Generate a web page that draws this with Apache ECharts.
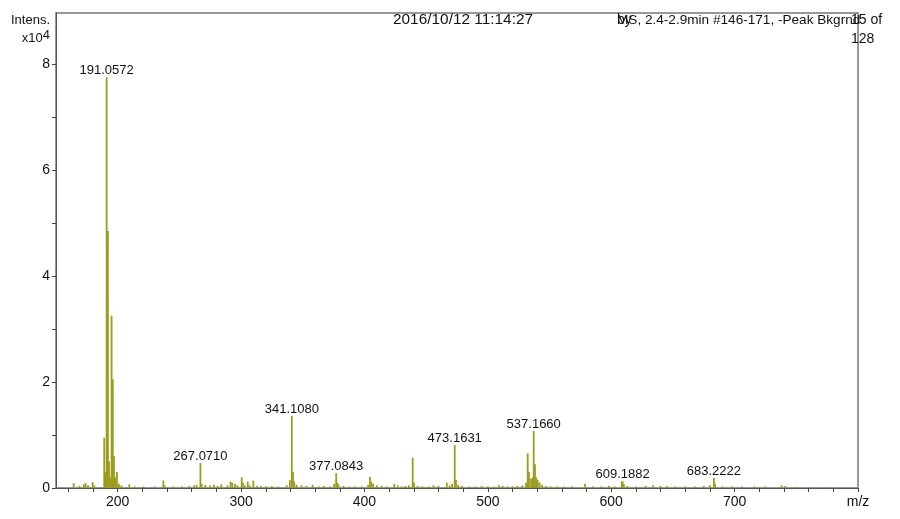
<!DOCTYPE html>
<html>
<head>
<meta charset="utf-8">
<script src="https://cdn.jsdelivr.net/npm/echarts@6/dist/echarts.min.js"></script>
<style>
html,body{margin:0;padding:0;background:#fff;}
#chart{width:900px;height:519px;}
</style>
</head>
<body>
<div id="chart"></div>
<script>
// m/z of peaks
var peakMz = [164.3,169,172.5,174,176,179.7,181,189.1,190.1,191.06,192.06,193.0,194.1,195.05,196.05,197.0,198.0,199.4,201,203,209.4,214,221,230,237,238,245,252,258,262,264,267.07,268.1,271,275,278,281,284,289,291.5,292.9,295,297,300.5,301.5,303,305.4,307,309.9,313,316,320,325,330,337,339.5,341.11,342.1,343.1,345,349,353,358,363,367,372,375.5,377.08,378.1,379,383,388,392,398,403,404.5,405.5,407,410,414,418,424.2,427,430,433,436,439.1,440.1,443,447,452,456,460,466.7,469,471,473.16,474.2,476,479,485,490,495,500,505,509,512,516,520,524,528,531,532.3,533.3,535,536.5,537.17,538.2,539.2,540.4,542,544,547,551,556,562,568,578.8,585,592,598,603,608.5,609.19,610.2,613,620,628,634,640,645,652,660,668,675,680,683.22,684.2,690,698,706,716,725,738,741,750,760,775];
// intensity (x10^4)
var peakInt = [0.09,0.04,0.07,0.09,0.05,0.11,0.05,0.95,0.3,7.75,4.85,0.5,0.2,3.25,2.05,0.6,0.2,0.3,0.08,0.05,0.07,0.03,0.03,0.03,0.14,0.05,0.03,0.03,0.04,0.05,0.06,0.47,0.08,0.06,0.05,0.06,0.04,0.07,0.05,0.12,0.1,0.08,0.05,0.2,0.1,0.05,0.12,0.05,0.14,0.04,0.04,0.03,0.04,0.03,0.05,0.15,1.36,0.3,0.12,0.06,0.05,0.04,0.06,0.03,0.04,0.03,0.08,0.28,0.1,0.06,0.04,0.03,0.03,0.03,0.06,0.21,0.12,0.08,0.05,0.04,0.03,0.08,0.05,0.03,0.04,0.05,0.57,0.1,0.04,0.03,0.03,0.05,0.04,0.1,0.05,0.08,0.81,0.15,0.06,0.04,0.03,0.03,0.04,0.03,0.03,0.05,0.04,0.03,0.03,0.04,0.05,0.1,0.65,0.3,0.18,0.2,1.08,0.45,0.2,0.15,0.1,0.06,0.04,0.03,0.03,0.03,0.03,0.08,0.03,0.03,0.04,0.03,0.12,0.13,0.08,0.04,0.03,0.04,0.05,0.04,0.04,0.03,0.03,0.03,0.04,0.05,0.19,0.08,0.03,0.03,0.03,0.03,0.03,0.05,0.04,0.02,0.02,0.02];
// labelled peaks
var labelMz = [191.06,267.07,341.11,377.08,473.16,537.17,609.19,683.22];
var labelText = ['191.0572','267.0710','341.1080','377.0843','473.1631','537.1660','609.1882','683.2222'];
// axis ticks
var xTickVals = [160,180,200,220,240,260,280,300,320,340,360,380,400,420,440,460,480,500,520,540,560,580,600,620,640,660,680,700,720,740,760,780,800];
var xLabelVals = [200,300,400,500,600,700,800];
var yTickVals = [0,1,2,3,4,5,6,7,8];
var yLabelVals = [0,2,4,6,8];

var data = peakMz.map(function(m,i){
  var li = labelMz.indexOf(m);
  var item = {value:[m, peakInt[i]]};
  if (li >= 0) {
    item.label = {show:true, formatter: labelText[li]};
  }
  return item;
});

var chart = echarts.init(document.getElementById('chart'), null, {renderer:'canvas'});
var ff = 'Liberation Sans, Arial, sans-serif';
chart.setOption({
  animation:false,
  backgroundColor:'#fff',
  grid:{left:56,right:42,top:13,bottom:31,show:true,borderColor:'#777',borderWidth:1.5},
  xAxis:{
    type:'value',min:150,max:800,
    axisLine:{lineStyle:{color:'#555',width:1}},
    axisTick:{show:true,length:4,customValues:xTickVals,lineStyle:{color:'#444'}},
    axisLabel:{customValues:xLabelVals,fontSize:14,color:'#111',margin:7,fontFamily:ff,
      formatter:function(v){return v===800?'m/z':String(v);}},
    splitLine:{show:false}
  },
  yAxis:{
    type:'value',min:0,max:8.96,
    axisLine:{show:true,lineStyle:{color:'#555',width:1}},
    axisTick:{show:true,length:4,customValues:yTickVals,lineStyle:{color:'#444'}},
    axisLabel:{customValues:yLabelVals,fontSize:14,color:'#111',margin:6,fontFamily:ff},
    splitLine:{show:false}
  },
  series:[{
    type:'bar',
    data:data,
    barWidth:1.8,
    itemStyle:{color:'#9c9c1c'},
    label:{show:false,position:'top',distance:0,fontSize:13,color:'#111',fontFamily:ff},
    labelLayout:{hideOverlap:false}
  }],
  graphic:[
    {type:'text',x:50,y:20,style:{text:'Intens.',fontSize:13,fill:'#111',align:'right',verticalAlign:'middle',fontFamily:ff}},
    {type:'text',x:50,y:38,style:{text:'x10{s|4}',fontSize:13,fill:'#111',align:'right',verticalAlign:'middle',fontFamily:ff,
      rich:{s:{fontSize:13,verticalAlign:'top',padding:[0,0,6,0],fontFamily:ff}}}},
    {type:'text',x:393,y:20,style:{text:'2016/10/12 11:14:27',fontSize:15.4,fill:'#111',verticalAlign:'middle',fontFamily:ff}},
    {type:'text',x:617,y:20,style:{text:'by',fontSize:14,fill:'#111',verticalAlign:'middle',fontFamily:ff}},
    {type:'text',x:617,y:20,style:{text:'MS, 2.4-2.9min #146-171, -Peak Bkgrnd',fontSize:13.6,fill:'#111',verticalAlign:'middle',fontFamily:ff}},
    {type:'text',x:851,y:20,style:{text:'15 of',fontSize:14,fill:'#111',verticalAlign:'middle',fontFamily:ff}},
    {type:'text',x:851,y:39,style:{text:'128',fontSize:14,fill:'#111',verticalAlign:'middle',fontFamily:ff}}
  ]
});
</script>
</body>
</html>
